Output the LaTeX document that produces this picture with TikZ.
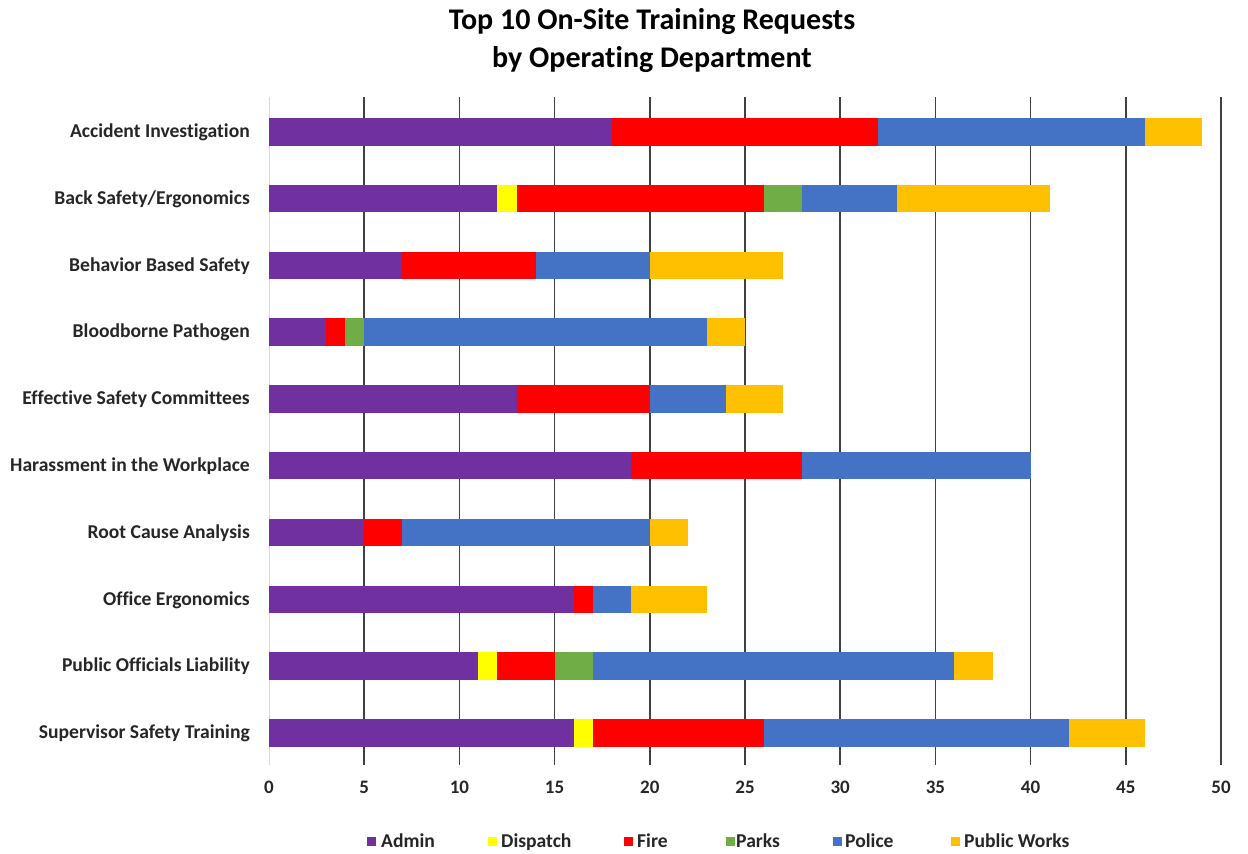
\documentclass[tikz,border=0pt]{standalone}
\usepackage{fontspec}
\setmainfont[RawFeature={-liga;-clig;-calt;-dlig;-rlig}]{Carlito}
\definecolor{cAdmin}{HTML}{7030A0}
\definecolor{cDispatch}{HTML}{FFFF00}
\definecolor{cFire}{HTML}{FF0000}
\definecolor{cParks}{HTML}{70AD47}
\definecolor{cPolice}{HTML}{4472C4}
\definecolor{cWorks}{HTML}{FFC000}
\definecolor{gridc}{HTML}{404040}
\definecolor{axisc}{HTML}{D9D9D9}
\definecolor{txt}{HTML}{262626}
\begin{document}
\begin{tikzpicture}[x=1pt,y=-1pt,
  gridline/.style={gridc,line width=1.6pt},
  axisline/.style={axisc,line width=1pt},
  catlabel/.style={anchor=base east,inner sep=0pt,font=\fontsize{19.6}{22}\selectfont\bfseries,text=txt},
  ticklabel/.style={anchor=base,inner sep=0pt,font=\fontsize{19}{22}\selectfont\bfseries,text=txt},
  legtext/.style={anchor=base west,inner sep=0pt,font=\fontsize{19.6}{22}\selectfont\bfseries,text=txt},
  legkey/.style={minimum size=9pt,inner sep=0pt,draw=none},
  barseg/.style={inner sep=0pt,draw=none,minimum height=27.4pt},
  title/.style={anchor=base,inner sep=0pt,font=\fontsize{30}{36}\selectfont\bfseries}]
\useasboundingbox (0,0) rectangle (1248,854);
\fill[white] (0,0) rectangle (1248,854);
% value-to-pixel scale: 0 at x=269, 19.04 per unit
\def\xo{269}
\def\ux{19.04}
% vertical gridlines and labels
\draw[axisline] (\xo,97) -- (\xo,765);
\node[ticklabel] (t0) at (\xo,793.5) {0};
\foreach \k in {5,10,...,50}{
  \draw[gridline] ({\xo+\k*\ux},97) -- ({\xo+\k*\ux},765);
  \node[ticklabel] (t\k) at ({\xo+\k*\ux},793.5) {\k};
}
% title
\node[title] (ttl1) at (652,29) {Top 10 On-Site Training Requests};
\node[title] (ttl2) at (652,67) {by Operating Department};
% stacked bars: row / label / segments (start/end/colour)
\foreach \r/\lab/\segs in {
  1/{Accident Investigation}/{0/18/cAdmin,18/32/cFire,32/46/cPolice,46/49/cWorks},
  2/{Back Safety/Ergonomics}/{0/12/cAdmin,12/13/cDispatch,13/26/cFire,26/28/cParks,28/33/cPolice,33/41/cWorks},
  3/{Behavior Based Safety}/{0/7/cAdmin,7/14/cFire,14/20/cPolice,20/27/cWorks},
  4/{Bloodborne Pathogen}/{0/3/cAdmin,3/4/cFire,4/5/cParks,5/23/cPolice,23/25/cWorks},
  5/{Effective Safety Committees}/{0/13/cAdmin,13/20/cFire,20/24/cPolice,24/27/cWorks},
  6/{Harassment in the Workplace}/{0/19/cAdmin,19/28/cFire,28/40/cPolice},
  7/{Root Cause Analysis\ }/{0/5/cAdmin,5/7/cFire,7/20/cPolice,20/22/cWorks},
  8/{Office Ergonomics}/{0/16/cAdmin,16/17/cFire,17/19/cPolice,19/23/cWorks},
  9/{Public Officials Liability}/{0/11/cAdmin,11/12/cDispatch,12/15/cFire,15/17/cParks,17/36/cPolice,36/38/cWorks},
  10/{Supervisor Safety Training}/{0/16/cAdmin,16/17/cDispatch,17/26/cFire,26/42/cPolice,42/46/cWorks}}{
  \pgfmathsetmacro{\yc}{131.8+(\r-1)*66.78}
  \node[catlabel] (cat\r) at (250,\yc+5.8) {\lab};
  \foreach \a/\b/\c in \segs{
    \node[barseg,fill=\c,minimum width={(\b-\a)*\ux*1pt}] (bar\r-\a)
      at ({\xo+(\a+\b)/2*\ux},\yc) {};
  }
}
% legend
\foreach \n/\c/\kx/\tx/\lab in {
  a/cAdmin/371/381/Admin,
  d/cDispatch/492.5/501/Dispatch,
  f/cFire/628.5/637/Fire,
  p/cParks/730.5/736/Parks,
  o/cPolice/837/845/Police,
  w/cWorks/955.5/964/Public Works}{
  \node[legkey,fill=\c] (key\n) at (\kx,841) {};
  \node[legtext] (leg\n) at (\tx,847) {\lab};
}
\end{tikzpicture}
\end{document}
